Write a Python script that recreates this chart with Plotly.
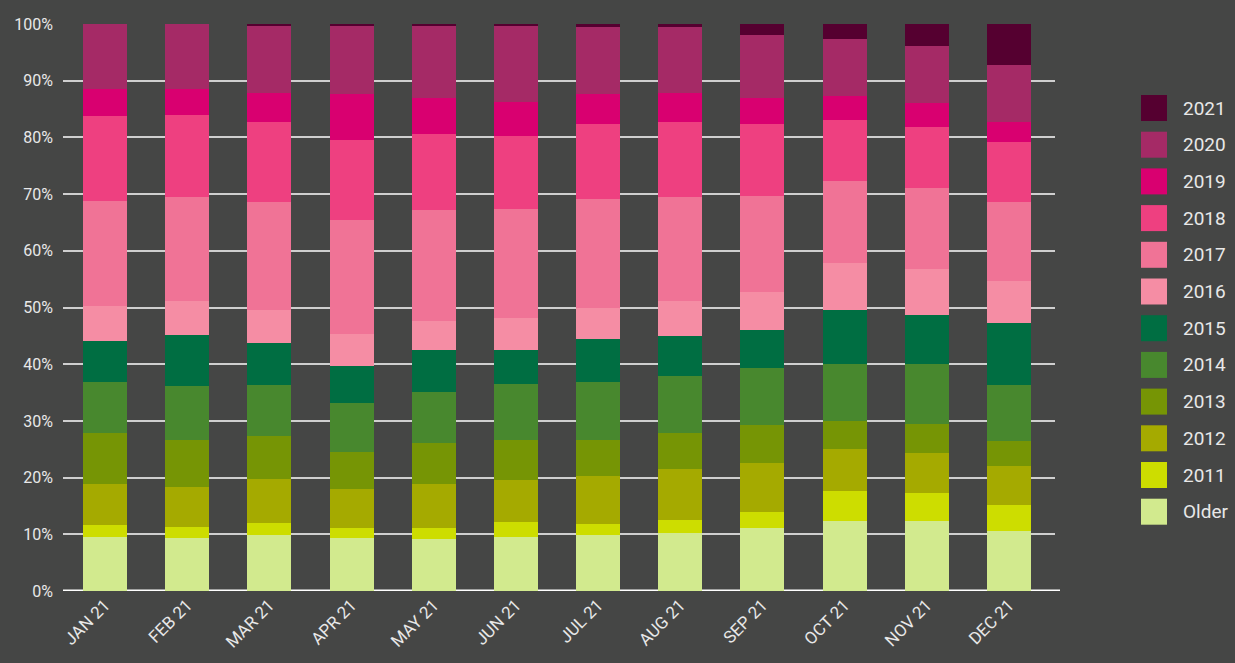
import plotly.graph_objects as go

# Months shown on the x axis
months = ["JAN 21", "FEB 21", "MAR 21", "APR 21", "MAY 21", "JUN 21",
          "JUL 21", "AUG 21", "SEP 21", "OCT 21", "NOV 21", "DEC 21"]

# Share (%) of each vintage per month, stacked from the bottom up
older = [9.6, 9.4, 9.9, 9.4, 9.2, 9.6, 9.8, 10.3, 11.2, 12.4, 12.4, 10.5]
y2011 = [2.1, 1.9, 2.1, 1.8, 1.9, 2.6, 2.1, 2.3, 2.8, 5.3, 4.8, 4.6]
y2012 = [7.2, 7.1, 7.8, 6.8, 7.8, 7.4, 8.3, 9.0, 8.6, 7.4, 7.2, 7.0]
y2013 = [9.0, 8.3, 7.6, 6.5, 7.2, 7.0, 6.5, 6.2, 6.7, 4.8, 5.1, 4.4]
y2014 = [9.0, 9.5, 9.0, 8.6, 9.0, 9.9, 10.1, 10.2, 10.1, 10.2, 10.6, 9.9]
y2015 = [7.2, 9.0, 7.4, 6.5, 7.4, 6.0, 7.7, 6.9, 6.7, 9.5, 8.6, 10.9]
y2016 = [6.2, 6.0, 5.8, 5.7, 5.1, 5.6, 5.5, 6.3, 6.7, 8.3, 8.1, 7.4]
y2017 = [18.5, 18.3, 19.0, 20.1, 19.6, 19.2, 19.2, 18.3, 16.9, 14.4, 14.3, 13.9]
y2018 = [15.0, 14.5, 14.1, 14.1, 13.4, 12.9, 13.1, 13.3, 12.7, 10.8, 10.7, 10.6]
y2019 = [4.8, 4.6, 5.1, 8.1, 6.3, 6.0, 5.3, 5.1, 4.6, 4.2, 4.2, 3.6]
y2020 = [11.4, 11.4, 11.8, 12.0, 12.7, 13.4, 11.9, 11.6, 11.1, 10.1, 10.1, 10.0]
y2021 = [0.0, 0.0, 0.4, 0.4, 0.4, 0.4, 0.5, 0.5, 1.9, 2.6, 3.9, 7.2]

series_names = ["Older", "2011", "2012", "2013", "2014", "2015",
                "2016", "2017", "2018", "2019", "2020", "2021"]
series_values = [older, y2011, y2012, y2013, y2014, y2015,
                 y2016, y2017, y2018, y2019, y2020, y2021]
series_colors = ["#d2ea8e", "#cddd00", "#a5aa00", "#769505", "#48882e", "#006e42",
                 "#f58da4", "#f07396", "#ee4080", "#d90070", "#a52a66", "#550030"]

y_ticks = [0, 10, 20, 30, 40, 50, 60, 70, 80, 90, 100]
y_tick_labels = ["0%", "10%", "20%", "30%", "40%", "50%",
                 "60%", "70%", "80%", "90%", "100%"]

BG = "#454645"
TEXT = "#e8e8e8"
FONT = "Roboto"

W, H = 1235, 663
ML, MR, MT, MB = 63, 180, 24, 72
plot_w = W - ML - MR
plot_h = H - MT - MB

fig = go.Figure()
for name, vals, col in zip(series_names, series_values, series_colors):
    fig.add_trace(go.Bar(
        x=months, y=vals, name=name,
        marker=dict(color=col, line=dict(width=0)),
        showlegend=False,
    ))

# Baseline under the bars
fig.add_shape(type="line", xref="paper", yref="y",
              x0=0, x1=(1060 - ML) / plot_w, y0=0, y1=0,
              line=dict(color="#ffffff", width=3), layer="below")

# Legend: square swatches with labels, newest vintage on top
def px_x(px):
    return (px - ML) / plot_w

def px_y(py):
    return (H - MB - py) / plot_h

legend_top = 95
legend_step = 36.7
sw = 26
for i, (name, col) in enumerate(zip(series_names[::-1], series_colors[::-1])):
    top = legend_top + i * legend_step
    fig.add_shape(type="rect", xref="paper", yref="paper",
                  x0=px_x(1141), x1=px_x(1141 + sw),
                  y0=px_y(top + sw), y1=px_y(top),
                  fillcolor=col, line=dict(width=0), layer="above")
    fig.add_annotation(xref="paper", yref="paper",
                       x=px_x(1181), y=px_y(top + sw / 2),
                       text=name, showarrow=False,
                       xanchor="left", yanchor="middle",
                       font=dict(family=FONT, size=19, color=TEXT))

fig.update_layout(
    width=W, height=H,
    barmode="stack", bargap=0.465,
    paper_bgcolor=BG, plot_bgcolor=BG,
    margin=dict(l=ML, r=MR, t=MT, b=MB, pad=0),
    font=dict(family=FONT, color=TEXT, size=15),
    showlegend=False,
    xaxis=dict(
        type="category", range=[-0.511, 11.56],
        showgrid=False, showline=False, zeroline=False,
        ticks="", tickangle=-45,
        tickfont=dict(family=FONT, size=17, color=TEXT),
    ),
    yaxis=dict(
        range=[0, 100], tickvals=y_ticks, ticktext=y_tick_labels,
        showgrid=True, gridcolor="#cfcfcf", gridwidth=1.5,
        zeroline=False, showline=False, ticks="",
        ticklabelstandoff=9,
        tickfont=dict(family=FONT, size=16, color=TEXT),
    ),
)

fig.write_html("out.html", config={"displayModeBar": False})
